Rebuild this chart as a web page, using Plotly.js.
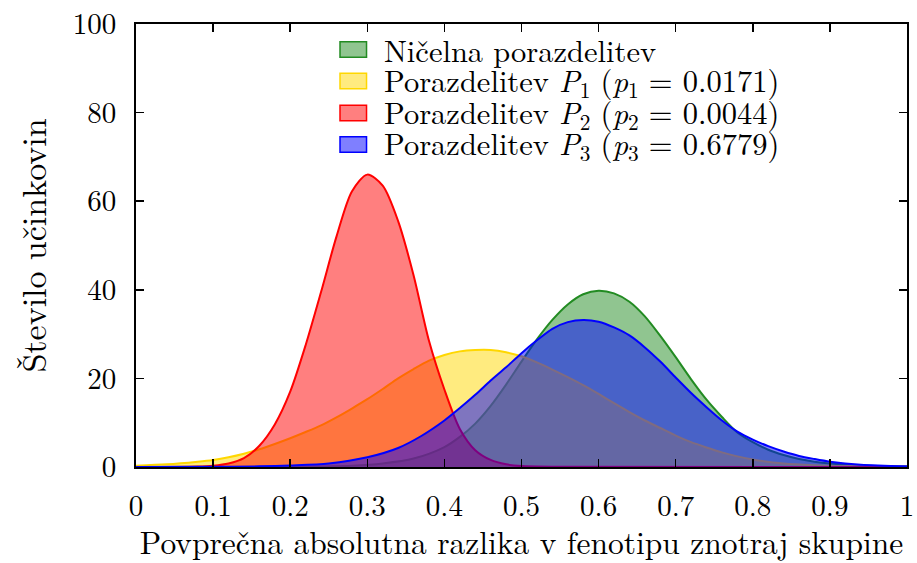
<!DOCTYPE html>
<html>
<head>
<meta charset="utf-8">
<script src="https://cdn.plot.ly/plotly-3.0.1.min.js"></script>
<style>html,body{margin:0;padding:0;background:#fff;}#chart{width:917px;height:563px;}</style>
</head>
<body>
<div id="chart"></div>
<script>
// Series names (legend labels)
const seriesNames = [
  'Ničelna porazdelitev',
  'Porazdelitev <i>P</i><sub>1</sub> (<i>p</i><sub>1</sub> = 0.0171)',
  'Porazdelitev <i>P</i><sub>2</sub> (<i>p</i><sub>2</sub> = 0.0044)',
  'Porazdelitev <i>P</i><sub>3</sub> (<i>p</i><sub>3</sub> = 0.6779)'
];

// Null distribution (green)
const xNull = [0.00,0.20,0.28,0.32,0.36,0.40,0.42,0.44,0.46,0.48,0.50,0.52,0.54,0.56,0.58,0.60,0.62,0.64,0.66,0.68,0.70,0.72,0.74,0.76,0.78,0.80,0.82,0.84,0.86,0.88,0.90,0.94,1.00];
const yNull = [0.0,0.05,0.3,0.8,1.9,4.5,6.8,9.8,13.8,18.6,23.8,28.8,33.2,36.7,39.0,39.8,39.2,37.3,34.0,29.6,24.8,19.8,15.2,11.3,7.8,5.6,3.9,2.7,1.8,1.2,0.8,0.35,0.1];

// P1 (yellow)
const xP1 = [0.00,0.04,0.08,0.10,0.12,0.14,0.16,0.18,0.20,0.22,0.24,0.26,0.28,0.30,0.32,0.34,0.36,0.38,0.40,0.42,0.44,0.46,0.48,0.50,0.52,0.54,0.56,0.58,0.60,0.62,0.64,0.66,0.68,0.70,0.72,0.74,0.76,0.78,0.80,0.84,0.88,0.92,1.00];
const yP1 = [0.3,0.6,1.2,1.6,2.2,3.0,4.0,5.2,6.5,7.9,9.4,11.2,13.2,15.3,17.6,20.0,22.1,24.0,25.3,26.1,26.4,26.4,25.9,25.0,23.6,22.0,20.3,18.5,16.5,14.4,12.4,10.5,8.8,7.1,5.6,4.4,3.3,2.4,1.7,0.8,0.4,0.2,0.05];

// P2 (red)
const xP2 = [0.00,0.08,0.10,0.12,0.14,0.16,0.18,0.20,0.22,0.24,0.26,0.28,0.30,0.32,0.34,0.36,0.38,0.40,0.42,0.44,0.46,0.48,0.50,0.55,1.00];
const yP2 = [0.0,0.1,0.3,0.8,2.0,4.8,9.6,17.0,27.5,39.5,52.0,62.2,66.0,63.5,55.5,43.3,28.5,17.5,8.6,3.8,1.6,0.6,0.2,0.05,0.0];

// P3 (blue)
const xP3 = [0.00,0.10,0.16,0.20,0.25,0.30,0.34,0.37,0.40,0.42,0.44,0.46,0.48,0.50,0.52,0.54,0.56,0.58,0.60,0.62,0.64,0.66,0.68,0.70,0.72,0.74,0.76,0.78,0.80,0.82,0.84,0.86,0.88,0.90,0.94,1.00];
const yP3 = [0.0,0.05,0.15,0.35,0.8,2.2,4.3,7.0,10.5,13.3,16.3,19.5,22.5,25.7,28.6,31.2,32.7,33.2,32.8,31.5,29.7,27.0,23.8,20.2,16.7,13.5,10.5,8.0,6.2,4.7,3.5,2.5,1.8,1.2,0.5,0.15];

// Axis ticks
const xTickVals = [0,0.1,0.2,0.3,0.4,0.5,0.6,0.7,0.8,0.9,1];
const xTickText = ['0','0.1','0.2','0.3','0.4','0.5','0.6','0.7','0.8','0.9','1'];
const yTickVals = [0,20,40,60,80,100];
const yTickText = ['0','20','40','60','80','100'];

const lineColors = ['#228B22','#FFD700','#FF0000','#0000FF'];
const fillColors = ['rgba(34,139,34,0.5)','rgba(255,215,0,0.5)','rgba(255,0,0,0.5)','rgba(0,0,255,0.5)'];
const xs = [xNull, xP1, xP2, xP3];
const ys = [yNull, yP1, yP2, yP3];

const traces = xs.map((x, i) => ({
  type: 'scatter',
  mode: 'lines',
  x: x,
  y: ys[i],
  name: seriesNames[i],
  fill: 'tozeroy',
  fillcolor: fillColors[i],
  line: {color: lineColors[i], width: 2, shape: 'spline', smoothing: 0.8},
  showlegend: false,
  hoverinfo: 'x+y'
}));

const fontFam = 'Latin Modern Roman';

// Custom legend (box swatches like the original), placed in paper coordinates
const legX0 = 0.2646, legX1 = 0.299, legTextX = 0.3187;
const legYc = [0.9424, 0.8713, 0.7991, 0.728];
const legH = 0.0352;
const shapes = [];
const annotations = [];
seriesNames.forEach((nm, i) => {
  shapes.push({
    type: 'rect', xref: 'paper', yref: 'paper',
    x0: legX0, x1: legX1, y0: legYc[i] - legH / 2, y1: legYc[i] + legH / 2,
    fillcolor: fillColors[i], line: {color: lineColors[i], width: 1.5}
  });
  annotations.push({
    xref: 'paper', yref: 'paper', x: legTextX, y: legYc[i],
    xanchor: 'left', yanchor: 'middle', showarrow: false,
    text: nm, font: {family: fontFam, size: 30.5, color: '#000'}
  });
});

const layout = {
  width: 917,
  height: 563,
  margin: {l: 136, r: 10, t: 24, b: 96},
  paper_bgcolor: '#ffffff',
  plot_bgcolor: '#ffffff',
  font: {family: fontFam, size: 29, color: '#000'},
  showlegend: false,
  shapes: shapes,
  annotations: annotations,
  xaxis: {
    range: [0, 1],
    tickvals: xTickVals,
    ticktext: xTickText,
    ticks: 'inside',
    ticklen: 8,
    tickwidth: 1.5,
    tickcolor: '#000',
    mirror: 'ticks',
    showline: true,
    linecolor: '#000',
    linewidth: 2,
    showgrid: false,
    zeroline: false,
    ticklabelstandoff: 12,
    tickfont: {family: fontFam, size: 29, color: '#000'},
    title: {text: 'Povprečna absolutna razlika v fenotipu znotraj skupine', font: {family: fontFam, size: 31.5, color: '#000'}, standoff: 12},
    automargin: false
  },
  yaxis: {
    range: [0, 100],
    tickvals: yTickVals,
    ticktext: yTickText,
    ticks: 'inside',
    ticklen: 8,
    tickwidth: 1.5,
    tickcolor: '#000',
    mirror: 'ticks',
    showline: true,
    linecolor: '#000',
    linewidth: 2,
    showgrid: false,
    zeroline: false,
    ticklabelstandoff: 12,
    tickfont: {family: fontFam, size: 29, color: '#000'},
    title: {text: 'Število učinkovin', font: {family: fontFam, size: 34, color: '#000'}, standoff: 16},
    automargin: false
  }
};

Plotly.newPlot('chart', traces, layout, {displayModeBar: false, staticPlot: true});
</script>
</body>
</html>
